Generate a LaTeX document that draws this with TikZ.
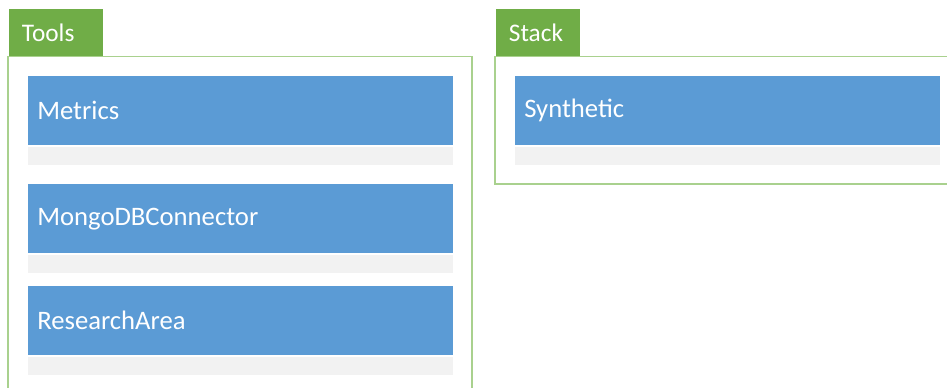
\documentclass[tikz,border=0pt]{standalone}
\usepackage{fontspec}
\setmainfont{Carlito}
\usetikzlibrary{positioning}
\definecolor{tabgreen}{RGB}{112,173,71}
\definecolor{framegreen}{RGB}{169,209,142}
\definecolor{itemblue}{RGB}{91,155,213}
\definecolor{stripgray}{RGB}{242,242,242}

\tikzset{
  tab/.style={rectangle, fill=tabgreen, text=white, font=\fontsize{19}{21}\selectfont,
              anchor=north west, minimum height=35.25pt, inner xsep=9.5pt, inner ysep=0pt, align=left},
  item/.style={rectangle, fill=itemblue, text=white, font=\fontsize{20}{22}\selectfont,
               anchor=north west, minimum height=51.75pt, text width=305.25pt,
               inner xsep=6.75pt, inner ysep=0pt, align=left},
  strip/.style={rectangle, fill=stripgray, minimum width=318.75pt, minimum height=13.5pt,
                inner sep=0pt, below=0.75pt of #1},
  frame/.style={draw=framegreen, line width=0.9pt}
}

\begin{document}
\begin{tikzpicture}[x=0.75pt, y=-0.75pt]
    \useasboundingbox (0,0) rectangle (947,387);
    \clip (0,0) rectangle (947,387);

    % Tools group
    \draw[frame] (8,56.5) rectangle (472,420);
    \node[tab, text width=51.5pt] (toolstab) at (9,9) {Tools};
    \node[item] (metrics) at (28,76) {Metrics};
    \node[strip=metrics] (metricsstrip) {};
    \node[item] (mongo) at (28,184) {MongoDBConnector};
    \node[strip=mongo] (mongostrip) {};
    \node[item] (research) at (28,286) {ResearchArea};
    \node[strip=research] (researchstrip) {};

    % Stack group
    \draw[frame] (495,56.5) rectangle (980,184);
    \node[tab, text width=44pt] (stacktab) at (496,9) {Stack};
    \node[item] (synthetic) at (515,76) {Synthetic};
    \node[strip=synthetic] (syntheticstrip) {};
\end{tikzpicture}
\end{document}
